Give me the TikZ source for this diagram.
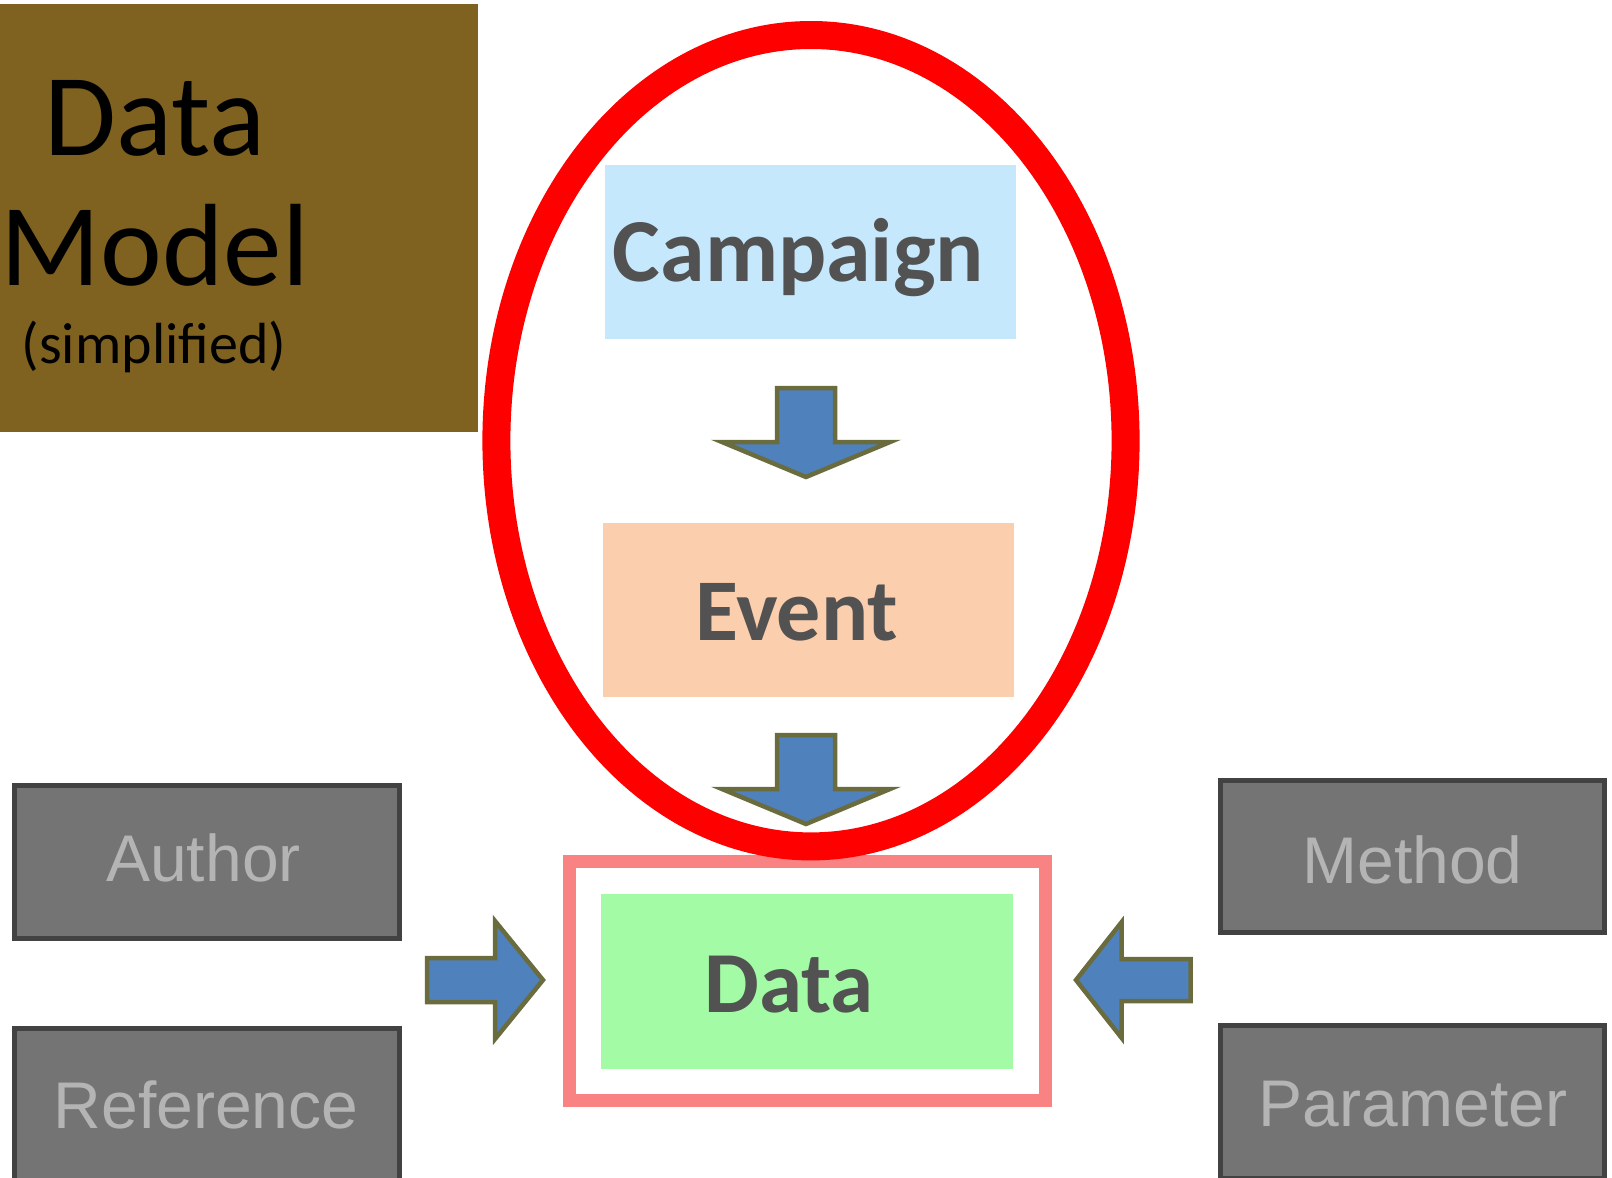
\documentclass[tikz,border=0pt]{standalone}
\usepackage{fontspec}
\newfontfamily\calibri{Carlito}
\newfontfamily\arial{Liberation Sans}
\definecolor{titlebrown}{HTML}{7F6120}
\definecolor{campaignblue}{HTML}{C6E8FD}
\definecolor{eventpeach}{HTML}{FBCEAD}
\definecolor{datagreen}{HTML}{A3FBA5}
\definecolor{framepink}{HTML}{F98282}
\definecolor{arrowblue}{HTML}{4F81BD}
\definecolor{arrowolive}{HTML}{6B6C3E}
\definecolor{boxgray}{HTML}{737473}
\definecolor{boxedge}{HTML}{424242}
\definecolor{boxtext}{HTML}{B4B4B4}
\definecolor{labeldark}{HTML}{525252}
\tikzset{
  x=1pt, y=-1pt,
  entitybox/.style={rectangle, inner sep=0pt, draw=none},
  sidebox/.style={rectangle, inner sep=0pt, fill=boxgray, draw=boxedge, line width=5pt},
  sidetext/.style={anchor=base, inner sep=0pt, text=boxtext, font=\arial\fontsize{66}{66}\selectfont},
  maintext/.style={anchor=base, inner sep=0pt, text=labeldark, font=\calibri\bfseries\fontsize{88}{88}\selectfont},
  blockarrow/.style={fill=arrowblue, draw=arrowolive, line width=4.5pt, line join=miter},
  titletext/.style={anchor=base, inner sep=0pt, text=black},
}
\begin{document}
\begin{tikzpicture}
\useasboundingbox (0,0) rectangle (1612,1178);

% title panel
\node[entitybox, fill=titlebrown, minimum width=478pt, minimum height=428pt] (panel) at (239,218) {};
\node[titletext, font=\calibri\fontsize{117}{117}\selectfont] (title1) at (155,155) {Data};
\node[titletext, font=\calibri\fontsize{117}{117}\selectfont] (title2) at (155,285) {Model};
\node[titletext, font=\calibri\fontsize{58}{58}\selectfont] (title3) at (154,363) {(simplified)};

% side entities
\node[sidebox, minimum width=385pt, minimum height=153pt] (author) at (207,862) {};
\node[sidebox, minimum width=385pt, minimum height=153pt] (reference) at (207,1105) {};
\node[sidebox, minimum width=384pt, minimum height=152pt] (method) at (1412.5,856.5) {};
\node[sidebox, minimum width=384pt, minimum height=153pt] (parameter) at (1412.5,1102) {};

\node[sidetext] (authorlbl) at (203.5,881) {Author};
\node[sidetext] (referencelbl) at (206,1128) {Reference};
\node[sidetext] (methodlbl) at (1412.5,883) {Method};
\node[sidetext] (parameterlbl) at (1413,1126) {Parameter};

% core entities
\node[entitybox, fill=campaignblue, minimum width=411pt, minimum height=174pt] (campaign) at (810.5,252) {};
\node[entitybox, fill=eventpeach, minimum width=411pt, minimum height=174.5pt] (event) at (808.4,610) {};
\node[entitybox, draw=framepink, line width=13pt, minimum width=476pt, minimum height=239pt] (dataframe) at (807.5,981) {};
\node[entitybox, fill=datagreen, minimum width=411.5pt, minimum height=175pt] (data) at (806.8,981.5) {};

% block arrows
\draw[blockarrow] (777,388) -- (835,388) -- (835,442) -- (890,442) -- (806,477)
  -- (722,442) -- (777,442) -- cycle;
\draw[blockarrow] (777,735) -- (835,735) -- (835,789) -- (890,789) -- (806,824)
  -- (722,789) -- (777,789) -- cycle;
\draw[blockarrow] (427,958) -- (495,958) -- (495,921) -- (543,980) -- (495,1039)
  -- (495,1002) -- (427,1002) -- cycle;
\draw[blockarrow] (1190.5,959) -- (1121.7,959) -- (1121.7,922) -- (1076,980)
  -- (1121.7,1038) -- (1121.7,1001) -- (1190.5,1001) -- cycle;

% grouping ring
\draw[red, line width=28pt] (811,440.7) ellipse [x radius=314.6, y radius=405.7];

% core labels
\node[maintext, font=\calibri\bfseries\fontsize{90}{90}\selectfont] (campaignlbl) at (798.5,281) {Campaign};
\node[maintext] (eventlbl) at (796.7,640.5) {Event};
\node[maintext, font=\calibri\bfseries\fontsize{87}{87}\selectfont] (datalbl) at (789,1012) {Data};
\end{tikzpicture}
\end{document}
